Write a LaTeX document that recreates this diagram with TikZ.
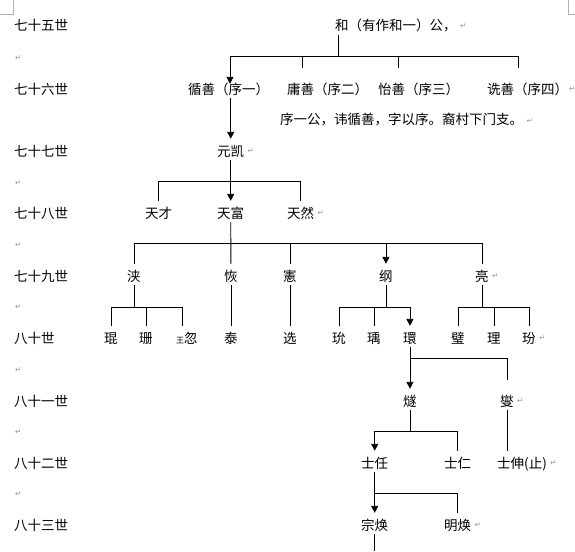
\documentclass[tikz,border=0pt]{standalone}
\usepackage{fontspec}
\setmainfont{Noto Sans CJK SC}
\newfontfamily\symfont{DejaVu Sans}
\usetikzlibrary{arrows.meta, positioning}

\begin{document}
\begin{tikzpicture}[
  x=1pt, y=-1pt,
  every node/.style={font=\fontsize{13.5}{16}\selectfont},
  gen/.style={anchor=base west, inner sep=0pt},
  person/.style={anchor=base west, inner sep=0pt, text height=17pt, text depth=4pt},
  pmark/.style={inner sep=0pt, text=gray!85, font=\symfont\fontsize{7.5}{7.5}\selectfont},
  eol/.style={label={[pmark, anchor=west, xshift=3pt, yshift=-2pt]east:↵}},
  link/.style={line width=0.9pt},
  arrow/.style={link, -{Triangle[width=7pt,length=7pt]}},
  corner/.style={gray!60, line width=0.6pt},
]
  \useasboundingbox (0,0) rectangle (575,551);

  % page corners
  \draw[corner] (0,14) -| (13,0);
  \draw[corner] (568,0) |- (575,14);

  % generations
  \foreach \g/\y in {七十五世/26, 七十六世/89, 七十七世/151, 七十八世/213, 七十九世/276,
                     八十世/338, 八十一世/401, 八十二世/463, 八十三世/525}
    \node[gen] (g\y) at (14,\y+5) {\g};
  \foreach \y [count=\i] in {58,183,245,307,370,432,494}
    \node[pmark, anchor=west] (pm\i) at (15,\y) {↵};

  % people
  \node[person, eol] (he) at (335,31) {和（有作和一）公，};
  \node[person] (xunshan) at (188,94) {循善（序一）};
  \node[person] (yongshan) at (287,94) {庸善（序二）};
  \node[person] (yishan) at (378,94) {怡善（序三）};
  \node[person, label={[pmark, anchor=west, xshift=0.5pt, yshift=-2pt]east:↵}] (shenshan) at (487,94) {诜善（序四）};
  \node[gen, eol] (note) at (280,124) {序一公，讳循善，字以序。裔村下门支。};
  \node[person, eol] (yuankai) at (217,156) {元凯};
  \node[person] (tiancai) at (145,218) {天才};
  \node[person] (tianfu) at (217,218) {天富};
  \node[person, eol] (tianran) at (287,218) {天然};
  \node[person] (jia) at (127,281) {浃};
  \node[person] (hui) at (224,281) {恢};
  \node[person] (xian) at (283,281) {憲};
  \node[person] (gang) at (379,281) {纲};
  \node[person, eol] (liang) at (475,281) {亮};
  \node[person] (kun) at (104,343) {琨};
  \node[person] (shan) at (139,343) {珊};
  \node[person] (hu) at (176,343) {{\fontsize{8}{8}\selectfont 王}忽};
  \node[person] (tai) at (224,343) {泰};
  \node[person] (xuan) at (283,343) {选};
  \node[person] (yun) at (332,343) {玧};
  \node[person] (yu) at (367,343) {瑀};
  \node[person] (huan) at (403,343) {環};
  \node[person] (bi) at (451,343) {璧};
  \node[person] (li) at (487,343) {理};
  \node[person, eol] (fen) at (522,343) {玢};
  \node[person] (sui) at (403,406) {燧};
  \node[person, eol] (xie) at (500,406) {燮};
  \node[person] (shiren) at (361,468) {士任};
  \node[person] (shiren2) at (444,468) {士仁};
  \node[person, eol] (shishen) at (497,468) {士伸(止)};
  \node[person] (zonghuan) at (361,530) {宗焕};
  \node[person, eol] (minghuan) at (444,530) {明焕};

  % bar levels
  \coordinate (b76) at (0,56);
  \coordinate (b78) at (0,181);
  \coordinate (b79) at (0,243);
  \coordinate (b80) at (0,307);
  \coordinate (b81) at (0,358);
  \coordinate (b82) at (0,431);
  \coordinate (b83) at (0,493);
  \coordinate (cut) at (0,551);

  % 75 -> 76
  \draw[link] ([xshift=3pt]he.south west) -- ([xshift=3pt]he.south west |- b76);
  \draw[link] ([xshift=42pt]xunshan.north west |- b76) -- ([xshift=31pt]shenshan.north west |- b76);
  \draw[arrow] ([xshift=42pt]xunshan.north west |- b76) -- ([xshift=42pt,yshift=-7pt]xunshan.north west);
  \draw[link] ([xshift=15pt]yongshan.north west |- b76) -- ([xshift=15pt,yshift=9pt]yongshan.north west);
  \draw[link] ([xshift=20pt]yishan.north west |- b76) -- ([xshift=20pt,yshift=9pt]yishan.north west);
  \draw[link] ([xshift=31pt]shenshan.north west |- b76) -- ([xshift=31pt,yshift=9pt]shenshan.north west);

  % 76 -> 77
  \draw[arrow] (yuankai.north |- xunshan.south) -- (yuankai.north);

  % 77 -> 78
  \draw[link] (yuankai.south) -- (yuankai.south |- b78);
  \draw[link] (tiancai.north) |- (tianran.north |- b78) -- (tianran.north);
  \draw[arrow] (tianfu.north |- b78) -- (tianfu.north);

  % 78 -> 79
  \draw[link] (tianfu.south) -- (hui.north);
  \draw[link] (jia.north) |- (liang.north |- b79) -- (liang.north);
  \draw[link] (xian.north |- b79) -- (xian.north);
  \draw[arrow] (gang.north |- b79) -- (gang.north);

  % 79 -> 80
  \draw[link] (jia.south) -- (jia.south |- b80);
  \draw[link] (kun.north) |- ([xshift=6pt]hu.north west |- b80) -- ([xshift=6pt]hu.north west);
  \draw[link] (shan.north |- b80) -- (shan.north);
  \draw[link] (hui.south) -- (tai.north);
  \draw[link] (xian.south) -- (xuan.north);
  \draw[link] (gang.south) -- (gang.south |- b80);
  \draw[link] (yun.north) |- (huan.north |- b80);
  \draw[link] (yu.north |- b80) -- (yu.north);
  \draw[arrow] (huan.north |- b80) -- (huan.north);
  \draw[link] (liang.south) -- (liang.south |- b80);
  \draw[link] (bi.north) |- (fen.north |- b80) -- (fen.north);
  \draw[link] (li.north |- b80) -- (li.north);

  % 80 -> 81
  \draw[link] (huan.south) -- (huan.south |- b81) -| ([yshift=9pt]xie.north);
  \draw[arrow] (huan.south |- b81) -- (sui.north);

  % 81 -> 82
  \draw[link] (sui.south) -- (sui.south |- b82);
  \draw[arrow] (shiren.north |- b82) -- (shiren.north);
  \draw[link] (shiren.north |- b82) -| (shiren2.north);
  \draw[link] (xie.south) -- (xie.south |- shishen.north);

  % 82 -> 83
  \draw[arrow] (shiren.south) -- (zonghuan.north);
  \draw[link] (shiren.south |- b83) -| (minghuan.north);
  \draw[link] (zonghuan.south) -- (zonghuan.south |- cut);
\end{tikzpicture}
\end{document}
